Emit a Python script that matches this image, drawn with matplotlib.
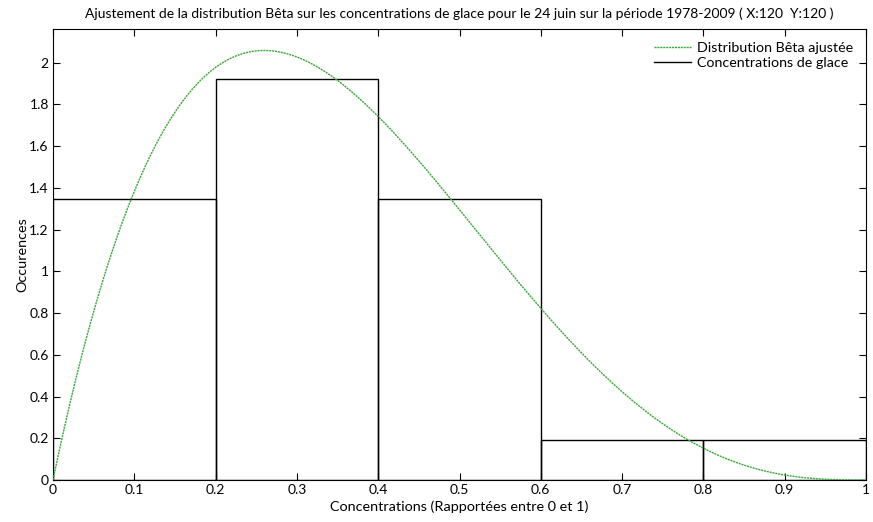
import numpy as np
import matplotlib
matplotlib.use('Agg')
import matplotlib.pyplot as plt

plt.rcParams['font.family'] = ['Lato', 'DejaVu Sans']

# histogramme normalisé (densité) des concentrations
bin_edges = [0.0, 0.2, 0.4, 0.6, 0.8]
bin_width = 0.2
densities = [1.346, 1.923, 1.346, 0.192, 0.192]

# paramètres de la loi Bêta ajustée
beta_a = 2.0
beta_b = 3.85

xticks = [0, 0.1, 0.2, 0.3, 0.4, 0.5, 0.6, 0.7, 0.8, 0.9, 1]
xticklabels = ['0', '0.1', '0.2', '0.3', '0.4', '0.5', '0.6', '0.7', '0.8', '0.9', '1']
yticks = [0, 0.2, 0.4, 0.6, 0.8, 1.0, 1.2, 1.4, 1.6, 1.8, 2.0]
yticklabels = ['0', '0.2', '0.4', '0.6', '0.8', '1', '1.2', '1.4', '1.6', '1.8', '2']


def beta_pdf(x, a, b):
    from math import gamma
    norm = gamma(a + b) / (gamma(a) * gamma(b))
    return norm * x ** (a - 1) * (1 - x) ** (b - 1)


fig = plt.figure(figsize=(8.73, 5.22), dpi=100)
ax = fig.add_axes([0.0607, 0.0805, 0.9313, 0.8635])

xs = np.linspace(0, 1, 600)
ax.plot(xs, beta_pdf(xs, beta_a, beta_b), color='#3aa63a', lw=1.0,
        linestyle=(0, (1.5, 0.6)), label='Distribution Bêta ajustée', zorder=3)

ax.bar(bin_edges, densities, width=bin_width, align='edge', fill=False,
       edgecolor='black', linewidth=1.0, zorder=2)
# entrée de légende pour l'histogramme
ax.plot([], [], color='black', lw=1.0, label='Concentrations de glace')

ax.set_xlim(0, 1)
ax.set_ylim(0, 2.16)
ax.set_xticks(xticks)
ax.set_xticklabels(xticklabels)
ax.set_yticks(yticks)
ax.set_yticklabels(yticklabels)
ax.tick_params(direction='in', length=5, width=0.8, labelsize=10,
               top=True, right=True, pad=3)
for s in ax.spines.values():
    s.set_linewidth(0.8)

ax.set_xlabel('Concentrations (Rapportées entre 0 et 1)', fontsize=10.4, labelpad=3)
ax.set_ylabel('Occurences', fontsize=10.4, labelpad=1)
ax.set_title('Ajustement de la distribution Bêta sur les concentrations de glace '
             'pour le 24 juin sur la période 1978-2009 ( X:120  Y:120 )',
             fontsize=10, pad=8)

ax.legend(loc='upper right', frameon=False, fontsize=10.3, handlelength=2.6,
          handletextpad=0.4, borderaxespad=0.5, labelspacing=0.2)

fig.savefig('out.png', dpi=100)
